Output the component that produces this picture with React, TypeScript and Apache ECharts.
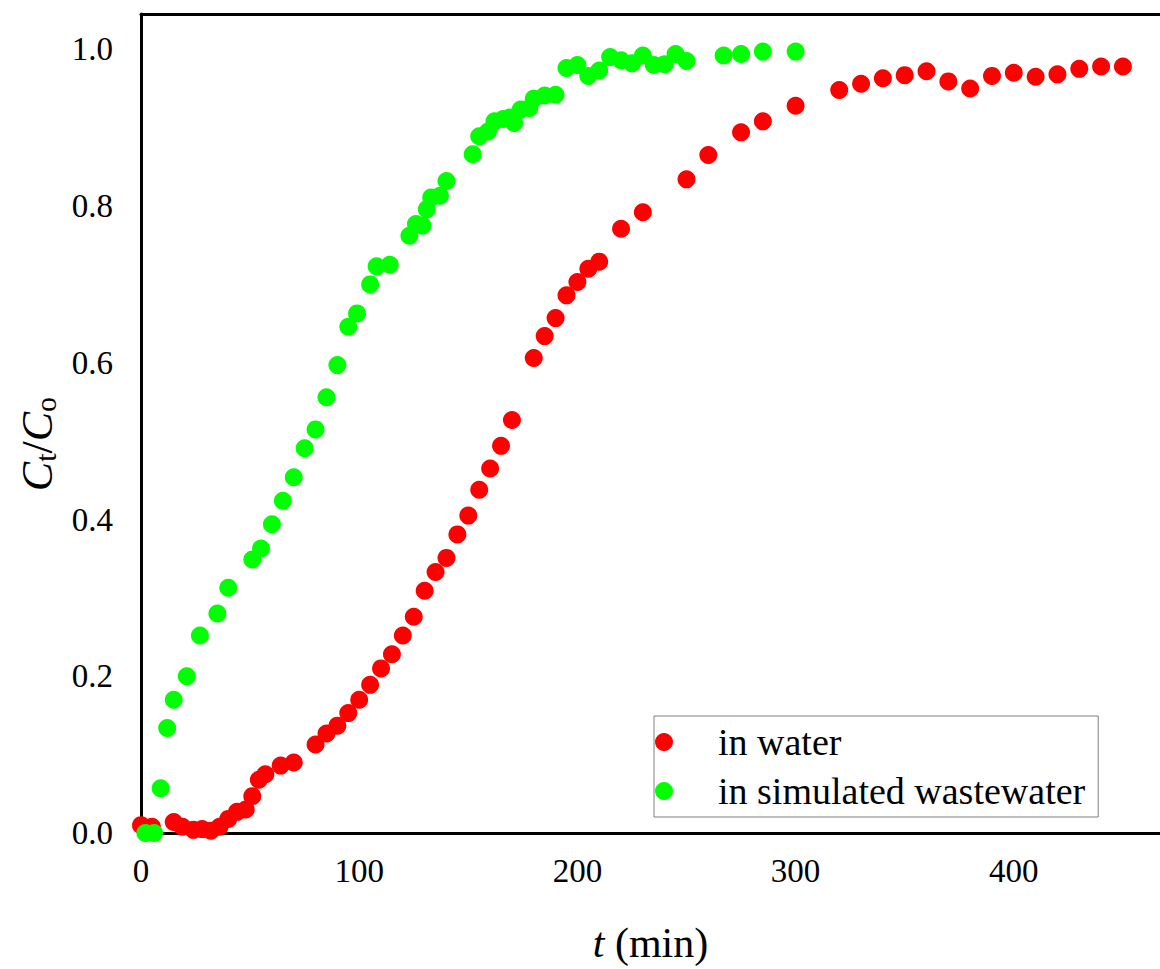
import React, { useEffect, useRef } from "react";
import * as echarts from "echarts";

const waterT = [0, 5, 15, 19, 24, 28, 32, 36, 40, 44, 48, 51, 54, 57, 64, 70, 80, 85, 90, 95, 100, 105, 110, 115, 120, 125, 130, 135, 140, 145, 150, 155, 160, 165, 170, 180, 185, 190, 195, 200, 205, 210, 220, 230, 250, 260, 275, 285, 300, 320, 330, 340, 350, 360, 370, 380, 390, 400, 410, 420, 430, 440, 450];
const waterC = [0.010, 0.008, 0.014, 0.008, 0.004, 0.005, 0.003, 0.008, 0.018, 0.027, 0.030, 0.047, 0.068, 0.075, 0.086, 0.090, 0.113, 0.127, 0.137, 0.153, 0.170, 0.189, 0.210, 0.228, 0.252, 0.276, 0.309, 0.333, 0.351, 0.381, 0.405, 0.438, 0.465, 0.494, 0.527, 0.606, 0.634, 0.657, 0.686, 0.703, 0.720, 0.729, 0.771, 0.792, 0.834, 0.865, 0.894, 0.908, 0.928, 0.948, 0.956, 0.963, 0.967, 0.972, 0.959, 0.950, 0.966, 0.970, 0.965, 0.968, 0.975, 0.978, 0.978];

const wasteT = [2, 6, 9, 12, 15, 21, 27, 35, 40, 51, 55, 60, 65, 70, 75, 80, 85, 90, 95, 99, 105, 108, 114, 123, 126, 129, 131, 133, 137, 140, 152, 155, 159, 162, 166, 169, 171, 174, 178, 180, 185, 190, 195, 200, 205, 210, 215, 220, 225, 230, 235, 240, 245, 250, 267, 275, 285, 300];
const wasteC = [0.000, 0.000, 0.057, 0.134, 0.170, 0.200, 0.252, 0.280, 0.313, 0.349, 0.363, 0.394, 0.424, 0.454, 0.491, 0.515, 0.556, 0.597, 0.646, 0.663, 0.700, 0.723, 0.725, 0.762, 0.777, 0.775, 0.796, 0.811, 0.813, 0.832, 0.866, 0.889, 0.895, 0.908, 0.911, 0.913, 0.906, 0.923, 0.925, 0.937, 0.941, 0.942, 0.976, 0.980, 0.966, 0.973, 0.990, 0.986, 0.982, 0.992, 0.980, 0.981, 0.994, 0.985, 0.992, 0.994, 0.997, 0.997];

const seriesNames = ["in water", "in simulated wastewater"];
const seriesColors = ["#ff0000", "#00ff00"];
const xMax = 467;

const FONT = "Liberation Serif";

const CSS = `
.chart-box svg text, .chart-box svg tspan { font-family: "Liberation Serif" !important; }
`;

export default function App() {
  const ref = useRef<HTMLDivElement>(null);
  useEffect(() => {
    if (!ref.current) return;
    const chart = echarts.init(ref.current, undefined, { renderer: "svg" });
    const zip = (xs: number[], ys: number[]) => xs.map((x, i) => [x, ys[i]]);
    chart.setOption({
      animation: false,
      backgroundColor: "#ffffff",
      textStyle: { fontFamily: FONT },
      grid: { left: 141, top: 14, right: 0, bottom: 128, containLabel: false },
      xAxis: [
        {
          type: "value",
          min: 0,
          max: xMax,
          interval: 100,
          position: "bottom",
          axisLine: { show: true, lineStyle: { color: "#000", width: 3 } },
          axisTick: { show: false },
          splitLine: { show: false },
          axisLabel: { showMaxLabel: false, margin: 21, fontFamily: FONT, fontSize: 33, color: "#000" },
          name: "{i|t}{n| (min)}",
          nameLocation: "middle",
          nameGap: 89,
          nameTextStyle: {
            fontFamily: FONT,
            fontSize: 42,
            rich: {
              i: { fontFamily: FONT, fontSize: 42, fontStyle: "italic", color: "#000" },
              n: { fontFamily: FONT, fontSize: 42, color: "#000" },
            },
          },
        },
        {
          type: "value",
          min: 0,
          max: xMax,
          position: "top",
          axisLine: { show: true, onZero: false, lineStyle: { color: "#000", width: 3 } },
          axisTick: { show: false },
          axisLabel: { show: false },
          splitLine: { show: false },
        },
      ],
      yAxis: {
        type: "value",
        min: 0,
        max: 1.045,
        interval: 0.2,
        axisLine: { show: true, lineStyle: { color: "#000", width: 3 } },
        axisTick: { show: false },
        splitLine: { show: false },
        axisLabel: {
          showMaxLabel: false,
          margin: 28,
          fontFamily: FONT,
          fontSize: 33,
          color: "#000",
          formatter: (v: number) => v.toFixed(1),
        },
      },
      legend: {
        orient: "vertical",
        left: 654,
        top: 716,
        padding: [7, 13, 7, 1],
        itemWidth: 98,
        itemHeight: 18,
        itemGap: 11,
        icon: "circle",
        borderColor: "#7f7f7f",
        borderWidth: 1,
        textStyle: { fontFamily: FONT, fontSize: 38, color: "#000" },
        data: seriesNames,
      },
      graphic: [
        {
          type: "text",
          x: 37,
          y: 444,
          rotation: Math.PI / 2,
          style: {
            text: "{c|C}{s|t}{n|/}{c|C}{s|o}",
            fontFamily: FONT,
            align: "center",
            verticalAlign: "middle",
            rich: {
              c: { fontFamily: FONT, fontSize: 44, fontStyle: "italic", fill: "#000", lineHeight: 46 },
              n: { fontFamily: FONT, fontSize: 44, fill: "#000", lineHeight: 46 },
              s: { fontFamily: FONT, fontSize: 30, fill: "#000", lineHeight: 26, verticalAlign: "bottom" },
            },
          },
        },
      ],
      series: [
        {
          name: seriesNames[0],
          type: "scatter",
          symbol: "circle",
          symbolSize: 18,
          itemStyle: { color: seriesColors[0], opacity: 1 },
          data: zip(waterT, waterC),
          z: 2,
        },
        {
          name: seriesNames[1],
          type: "scatter",
          symbol: "circle",
          symbolSize: 18,
          itemStyle: { color: seriesColors[1], opacity: 1 },
          data: zip(wasteT, wasteC),
          z: 3,
        },
      ],
    });
    const timer = setTimeout(() => chart.resize(), 100);
    return () => {
      clearTimeout(timer);
      chart.dispose();
    };
  }, []);
  return (
    <div>
      <style>{CSS}</style>
      <div
        ref={ref}
        className="chart-box"
        style={{ position: "fixed", left: 0, top: 0, width: 1160, height: 969, background: "#fff" }}
      />
    </div>
  );
}
